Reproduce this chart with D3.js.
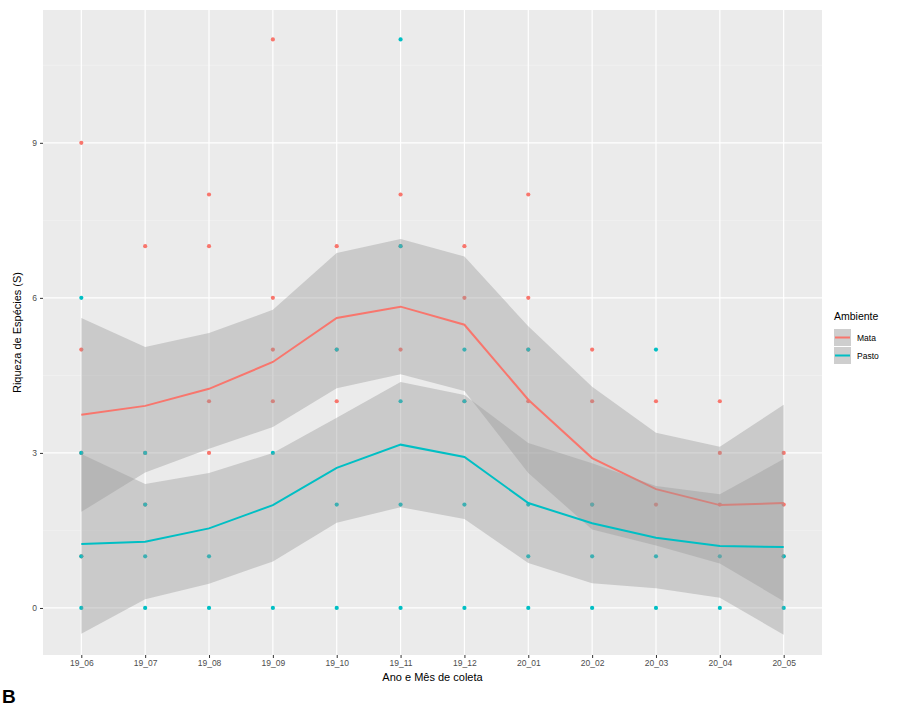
<!DOCTYPE html>
<html>
<head>
<meta charset="utf-8">
<script src="https://cdn.jsdelivr.net/npm/d3@7"></script>
<style>
  body { margin: 0; background: #fff; }
  svg { display: block; font-family: "Liberation Sans", Arial, sans-serif; }
</style>
</head>
<body>
<svg id="chart" width="910" height="708"></svg>
<script>
// months on the x axis
const months = ['19_06', '19_07', '19_08', '19_09', '19_10', '19_11', '19_12', '20_01', '20_02', '20_03', '20_04', '20_05'];

// loess fit + confidence band
const mataFit = [3.74, 3.91, 4.24, 4.76, 5.61, 5.83, 5.48, 4.03, 2.90, 2.30, 1.99, 2.03];
const mataLo  = [1.86, 2.62, 3.08, 3.50, 4.25, 4.52, 4.20, 2.61, 1.52, 1.21, 0.86, 0.13];
const mataHi  = [5.61, 5.05, 5.32, 5.77, 6.87, 7.14, 6.80, 5.45, 4.28, 3.39, 3.12, 3.93];

const pastoFit = [1.24, 1.28, 1.54, 1.99, 2.71, 3.16, 2.92, 2.03, 1.64, 1.36, 1.20, 1.18];
const pastoLo  = [-0.50, 0.17, 0.47, 0.90, 1.65, 1.95, 1.72, 0.87, 0.48, 0.38, 0.20, -0.52];
const pastoHi  = [2.98, 2.40, 2.61, 3.00, 3.68, 4.37, 4.12, 3.19, 2.80, 2.36, 2.20, 2.88];

// observed richness per month
const mataPts = [
    [9, 5, 3, 1], [7, 3, 2], [8, 7, 4, 3], [11, 6, 5, 4], [7, 5, 4], [8, 7, 5],
    [7, 6, 4], [8, 6, 5, 4], [5, 4, 2], [4, 2], [4, 3, 2], [3, 2, 1]
];
const pastoPts = [
    [6, 3, 1, 0], [3, 2, 1, 0], [1, 0], [3, 0], [5, 2, 0], [11, 7, 4, 2, 0],
    [5, 4, 2, 0], [5, 2, 1, 0], [2, 1, 0], [5, 1, 0], [1, 0], [1, 0]
];

const groups = ['Mata', 'Pasto'];
const yTicks = [0, 3, 6, 9];

const colors = { Mata: '#F8766D', Pasto: '#00BFC4' };

const panel = { l: 43, r: 822, t: 10, b: 655 };

const svg = d3.select('#chart');

const x = d3.scalePoint()
    .domain(months)
    .range([panel.l, panel.r])
    .padding(0.6);

const y = d3.scaleLinear()
    .domain([-0.91, 11.57])
    .range([panel.b, panel.t]);

// panel background
svg.append('rect')
    .attr('x', panel.l).attr('y', panel.t)
    .attr('width', panel.r - panel.l).attr('height', panel.b - panel.t)
    .attr('fill', '#EBEBEB');

// grid lines
const grid = svg.append('g');
const minorY = yTicks.map(d => d + 1.5).concat([yTicks[0] - 1.5]).filter(d => d > y.domain()[0] && d < y.domain()[1]);
grid.selectAll('.minor').data(minorY).join('line')
    .attr('x1', panel.l).attr('x2', panel.r)
    .attr('y1', d => y(d)).attr('y2', d => y(d))
    .attr('stroke', '#F4F4F4').attr('stroke-width', 0.6);
grid.selectAll('.majorY').data(yTicks).join('line')
    .attr('x1', panel.l).attr('x2', panel.r)
    .attr('y1', d => y(d)).attr('y2', d => y(d))
    .attr('stroke', '#fff').attr('stroke-width', 1.2);
grid.selectAll('.majorX').data(months).join('line')
    .attr('y1', panel.t).attr('y2', panel.b)
    .attr('x1', d => x(d)).attr('x2', d => x(d))
    .attr('stroke', '#fff').attr('stroke-width', 1.2);

// points first, the bands are drawn over them
const pts = [];
months.forEach((m, i) => {
    mataPts[i].forEach(v => pts.push({ m, v, g: 'Mata' }));
    pastoPts[i].forEach(v => pts.push({ m, v, g: 'Pasto' }));
});

svg.append('g').selectAll('circle').data(pts).join('circle')
    .attr('cx', d => x(d.m))
    .attr('cy', d => y(d.v))
    .attr('r', 2.1)
    .attr('fill', d => colors[d.g]);

const series = {
    Mata: { fit: mataFit, lo: mataLo, hi: mataHi },
    Pasto: { fit: pastoFit, lo: pastoLo, hi: pastoHi }
};

const area = d3.area()
    .x((d, i) => x(months[i]))
    .y0(d => y(d[0]))
    .y1(d => y(d[1]));

const line = d3.line()
    .x((d, i) => x(months[i]))
    .y(d => y(d));

groups.forEach(g => {
    const s = series[g];
    svg.append('path')
        .datum(s.lo.map((lo, i) => [lo, s.hi[i]]))
        .attr('d', area)
        .attr('fill', '#999999')
        .attr('fill-opacity', 0.4);
    svg.append('path')
        .datum(s.fit)
        .attr('d', line)
        .attr('fill', 'none')
        .attr('stroke', colors[g])
        .attr('stroke-width', 2);
});

// axes
const xAxis = svg.append('g')
    .attr('transform', `translate(0,${panel.b})`)
    .call(d3.axisBottom(x).tickSize(3).tickPadding(2));
const yAxis = svg.append('g')
    .attr('transform', `translate(${panel.l},0)`)
    .call(d3.axisLeft(y).tickValues(yTicks).tickSize(3).tickPadding(3));

[xAxis, yAxis].forEach(a => {
    a.select('.domain').remove();
    a.selectAll('.tick line').attr('stroke', '#333');
    a.selectAll('.tick text')
        .attr('fill', '#4D4D4D')
        .attr('font-size', 8.5)
        .attr('font-family', '"Liberation Sans", Arial, sans-serif');
});

// titles
svg.append('text')
    .attr('x', (panel.l + panel.r) / 2)
    .attr('y', 681)
    .attr('text-anchor', 'middle')
    .attr('font-size', 11)
    .attr('fill', '#000')
    .text('Ano e Mês de coleta');

svg.append('text')
    .attr('transform', `translate(21,${(panel.t + panel.b) / 2}) rotate(-90)`)
    .attr('text-anchor', 'middle')
    .attr('font-size', 11)
    .attr('fill', '#000')
    .text('Riqueza de Espécies (S)');

// legend
const legend = svg.append('g').attr('transform', 'translate(834,310)');
legend.append('text')
    .attr('x', 0).attr('y', 10)
    .attr('font-size', 10.5)
    .text('Ambiente');

const keys = legend.selectAll('.key').data(groups).join('g')
    .attr('transform', (d, i) => `translate(0,${19 + i * 18})`);
keys.append('rect')
    .attr('width', 17).attr('height', 17)
    .attr('fill', '#F2F2F2');
keys.append('rect')
    .attr('width', 17).attr('height', 17)
    .attr('fill', '#999999').attr('fill-opacity', 0.4);
keys.append('line')
    .attr('x1', 1).attr('x2', 16)
    .attr('y1', 8.5).attr('y2', 8.5)
    .attr('stroke', d => colors[d])
    .attr('stroke-width', 2);
keys.append('text')
    .attr('x', 23).attr('y', 12)
    .attr('font-size', 8.5)
    .attr('fill', '#000')
    .text(d => d);

// panel tag
svg.append('text')
    .attr('x', 2).attr('y', 703)
    .attr('font-size', 19)
    .attr('font-weight', 'bold')
    .text('B');
</script>
</body>
</html>
